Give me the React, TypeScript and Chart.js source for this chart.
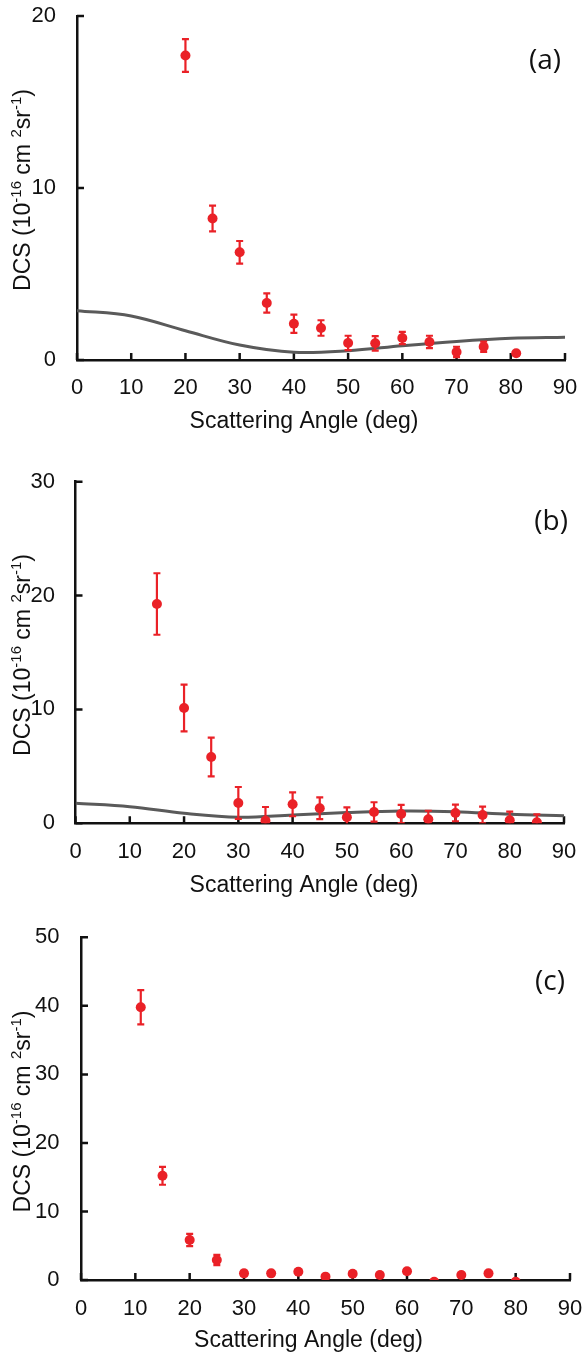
import React, { useEffect, useRef } from 'react';
import { Chart, registerables } from 'chart.js';

Chart.register(...registerables);

// ---------- data ----------
const xTickValues = [0, 10, 20, 30, 40, 50, 60, 70, 80, 90];

// panel (a)
const anglesA = [20, 25, 30, 35, 40, 45, 50, 55, 60, 65, 70, 75, 81];
const dcsA = [17.7, 8.23, 6.26, 3.31, 2.11, 1.86, 0.99, 0.97, 1.28, 1.05, 0.47, 0.77, 0.39];
const errA = [0.95, 0.75, 0.66, 0.56, 0.53, 0.45, 0.42, 0.42, 0.36, 0.36, 0.3, 0.3, 0.12];
const theoryAnglesA = [0, 10, 20, 30, 40, 50, 60, 70, 80, 90];
const theoryA = [2.87, 2.56, 1.7, 0.87, 0.45, 0.54, 0.83, 1.08, 1.26, 1.32];

// panel (b)
const anglesB = [15, 20, 25, 30, 35, 40, 45, 50, 55, 60, 65, 70, 75, 80, 85];
const dcsB = [19.26, 10.13, 5.82, 1.79, 0.23, 1.67, 1.32, 0.53, 1.0, 0.82, 0.35, 0.91, 0.73, 0.26, 0.09];
const errB = [2.7, 2.05, 1.7, 1.4, 1.2, 1.05, 0.95, 0.87, 0.85, 0.8, 0.75, 0.73, 0.73, 0.76, 0.7];
const theoryAnglesB = [0, 10, 20, 30, 40, 50, 60, 70, 80, 90];
const theoryB = [1.76, 1.46, 0.88, 0.53, 0.73, 0.94, 1.08, 1.02, 0.79, 0.67];

// panel (c)
const anglesC = [11, 15, 20, 25, 30, 35, 40, 45, 50, 55, 60, 65, 70, 75, 80];
const dcsC = [39.8, 15.2, 5.84, 2.92, 0.97, 0.97, 1.21, 0.49, 0.92, 0.73, 1.27, -0.25, 0.73, 0.97, -0.25];
const errC = [2.5, 1.3, 0.9, 0.75, 0.35, 0.3, 0.3, 0.3, 0.3, 0.3, 0.3, 0.3, 0.3, 0.3, 0.3];

const yTitleSegments: [string, boolean][] = [
  ['DCS (10', false],
  ['-16', true],
  [' cm ', false],
  ['2', true],
  ['sr', false],
  ['-1', true],
  [')', false],
];
const xTitle = 'Scattering Angle (deg)';

// ---------- styles / layout ----------
const RED = '#EA2127';
const GRAY = '#5A5A5A';
const BLACK = '#111111';
const FONT = "'Liberation Sans', Arial, sans-serif";
const TICK_SIZE = 22;
const TITLE_SIZE = 23;
const LABEL_SIZE = 28;

type PanelLayout = {
  top: number;
  height: number;
  left: number;
  right: number;
  areaTop: number;
  areaBottom: number;
  tickLabelCenter: number;
  titleCenterX: number;
  titleCenterY: number;
  yLabelRight: number;
  labelRight: number;
  labelCenter: number;
  yTitleCenter: number;
};

type PanelDef = {
  label: string;
  yMax: number;
  angles: number[];
  values: number[];
  errors: number[];
  theoryAngles?: number[];
  theory?: number[];
  layout: PanelLayout;
};

const panels: PanelDef[] = [
  {
    label: '(a)', yMax: 20, angles: anglesA, values: dcsA, errors: errA,
    theoryAngles: theoryAnglesA, theory: theoryA,
    layout: { top: 0, height: 440, left: 77, right: 565, areaTop: 16, areaBottom: 360,
      tickLabelCenter: 388, titleCenterX: 304, titleCenterY: 419.5, yLabelRight: 56,
      labelRight: 561, labelCenter: 61.5, yTitleCenter: 190 },
  },
  {
    label: '(b)', yMax: 30, angles: anglesB, values: dcsB, errors: errB,
    theoryAngles: theoryAnglesB, theory: theoryB,
    layout: { top: 460, height: 443, left: 75.5, right: 564, areaTop: 481.7, areaBottom: 823.3,
      tickLabelCenter: 851.5, titleCenterX: 304, titleCenterY: 883.5, yLabelRight: 55,
      labelRight: 568, labelCenter: 522.5, yTitleCenter: 655 },
  },
  {
    label: '(c)', yMax: 50, angles: anglesC, values: dcsC, errors: errC,
    layout: { top: 920, height: 433, left: 81, right: 570, areaTop: 937.3, areaBottom: 1280,
      tickLabelCenter: 1308.5, titleCenterX: 308.5, titleCenterY: 1339, yLabelRight: 59.5,
      labelRight: 565, labelCenter: 982.5, yTitleCenter: 1111.5 },
  },
];

// ---------- plugins ----------
const errorBarPlugin = {
  id: 'errorBars',
  beforeDatasetDraw(chart: any, args: any) {
    if (args.index !== 0) return;
    const ds = chart.data.datasets[0];
    const errs: number[] = ds.errors || [];
    const xs = chart.scales.x;
    const ys = chart.scales.y;
    const area = chart.chartArea;
    const ctx = chart.ctx;
    ctx.save();
    ctx.beginPath();
    ctx.rect(area.left, area.top, area.right - area.left, area.bottom - area.top);
    ctx.clip();
    ctx.strokeStyle = RED;
    ctx.lineWidth = 2.2;
    ds.data.forEach((pt: any, i: number) => {
      const e = errs[i];
      if (!e) return;
      const px = xs.getPixelForValue(pt.x);
      const top = ys.getPixelForValue(pt.y + e);
      const bot = ys.getPixelForValue(pt.y - e);
      ctx.beginPath();
      ctx.moveTo(px, top);
      ctx.lineTo(px, bot);
      ctx.moveTo(px - 3.5, top);
      ctx.lineTo(px + 3.5, top);
      ctx.moveTo(px - 3.5, bot);
      ctx.lineTo(px + 3.5, bot);
      ctx.stroke();
    });
    ctx.restore();
  },
};

const inwardTicksPlugin = {
  id: 'inwardTicks',
  beforeDatasetsDraw(chart: any) {
    const ctx = chart.ctx;
    const xs = chart.scales.x;
    const ys = chart.scales.y;
    const area = chart.chartArea;
    ctx.save();
    ctx.strokeStyle = BLACK;
    ctx.lineWidth = 2.5;
    ctx.beginPath();
    xs.ticks.forEach((t: any) => {
      const px = xs.getPixelForValue(t.value);
      ctx.moveTo(px, area.bottom);
      ctx.lineTo(px, area.bottom - 7);
    });
    ys.ticks.forEach((t: any) => {
      const py = ys.getPixelForValue(t.value);
      ctx.moveTo(area.left, py);
      ctx.lineTo(area.left + 7, py);
    });
    ctx.stroke();
    ctx.restore();
  },
};

const decorPlugin = {
  id: 'decor',
  afterDraw(chart: any, _args: any, opts: any) {
    const ctx = chart.ctx;
    // y-axis title with superscripts
    const size = TITLE_SIZE;
    const supSize = Math.round(size * 0.64);
    const base = `${size}px ${FONT}`;
    const sup = `${supSize}px ${FONT}`;
    ctx.save();
    let total = 0;
    yTitleSegments.forEach(([t, s]) => {
      ctx.font = s ? sup : base;
      total += ctx.measureText(t).width;
    });
    ctx.translate(22, opts.yTitleY);
    ctx.rotate(-Math.PI / 2);
    ctx.fillStyle = BLACK;
    ctx.textBaseline = 'alphabetic';
    ctx.textAlign = 'left';
    const baseline = size * 0.358;
    let x = -total / 2;
    yTitleSegments.forEach(([t, s]) => {
      ctx.font = s ? sup : base;
      ctx.fillText(t, x, s ? baseline - size * 0.4 : baseline);
      x += ctx.measureText(t).width;
    });
    ctx.restore();

    // x-axis title
    ctx.save();
    ctx.font = base;
    ctx.fillStyle = BLACK;
    ctx.textAlign = 'center';
    ctx.textBaseline = 'alphabetic';
    ctx.fillText(xTitle, opts.xTitleX, opts.xTitleY + size * 0.358);
    ctx.restore();

    // panel label
    ctx.save();
    ctx.font = `${LABEL_SIZE}px 'Open Sans', sans-serif`;
    ctx.fillStyle = BLACK;
    ctx.textAlign = 'right';
    ctx.textBaseline = 'alphabetic';
    ctx.fillText(opts.label, opts.labelX, opts.labelY + LABEL_SIZE * 0.27);
    ctx.restore();
  },
};

// ---------- component ----------
function PanelChart({ p }: { p: PanelDef }) {
  const ref = useRef<HTMLCanvasElement | null>(null);
  useEffect(() => {
    const L = p.layout;
    const tickLH = TICK_SIZE * 1.2;
    const xScaleHeight = L.top + L.height - L.areaBottom;
    const datasets: any[] = [
      {
        label: 'exp',
        data: p.angles.map((a, i) => ({ x: a, y: p.values[i] })),
        errors: p.errors,
        backgroundColor: RED,
        borderColor: RED,
        pointRadius: 5,
        pointBorderWidth: 0,
        showLine: false,
        clip: 0,
      },
    ];
    if (p.theory && p.theoryAngles) {
      datasets.push({
        label: 'theory',
        data: p.theoryAngles.map((a, i) => ({ x: a, y: p.theory![i] })),
        borderColor: GRAY,
        borderWidth: 3,
        pointRadius: 0,
        showLine: true,
        tension: 0.35,
        fill: false,
      });
    }
    const chart = new Chart(ref.current!, {
      type: 'scatter',
      data: { datasets },
      options: {
        animation: false,
        responsive: false,
        devicePixelRatio: 1,
        layout: {
          padding: { top: L.areaTop - L.top, right: 583 - L.right, left: 0, bottom: 0 },
        },
        plugins: {
          legend: { display: false },
          tooltip: { enabled: false },
          decor: {
            label: p.label,
            labelX: L.labelRight,
            labelY: L.labelCenter - L.top,
            yTitleY: L.yTitleCenter - L.top,
            xTitleX: L.titleCenterX,
            xTitleY: L.titleCenterY - L.top,
          },
        } as any,
        scales: {
          x: {
            type: 'linear',
            min: 0,
            max: 90,
            afterBuildTicks: (scale: any) => {
              scale.ticks = xTickValues.map((v) => ({ value: v }));
            },
            afterFit: (scale: any) => {
              scale.height = xScaleHeight;
              scale.paddingLeft = 0;
              scale.paddingRight = 0;
            },
            grid: { display: false, drawTicks: false },
            border: { display: true, color: BLACK, width: 2.5 },
            ticks: {
              color: BLACK,
              font: { family: FONT, size: TICK_SIZE },
              padding: L.tickLabelCenter - L.areaBottom - tickLH / 2,
              maxRotation: 0,
              autoSkip: false,
            },
            title: { display: false },
          },
          y: {
            type: 'linear',
            min: 0,
            max: p.yMax,
            afterFit: (scale: any) => {
              scale.width = L.left;
              scale.paddingTop = 0;
              scale.paddingBottom = 0;
            },
            grid: { display: false, drawTicks: false },
            border: { display: true, color: BLACK, width: 2.5 },
            ticks: {
              stepSize: 10,
              color: BLACK,
              font: { family: FONT, size: TICK_SIZE },
              padding: L.left - L.yLabelRight,
            },
          },
        },
      },
      plugins: [errorBarPlugin, inwardTicksPlugin, decorPlugin],
    } as any);
    return () => chart.destroy();
  }, [p]);
  const L = p.layout;
  return (
    <div style={{ position: 'absolute', left: 0, top: L.top, width: 583, height: L.height }}>
      <canvas ref={ref} width={583} height={L.height} style={{ display: 'block', width: 583, height: L.height }} />
    </div>
  );
}

export default function App() {
  return (
    <div style={{ position: 'absolute', left: 0, top: 0, width: 583, height: 1353, background: '#fff' }}>
      {panels.map((p) => (
        <PanelChart key={p.label} p={p} />
      ))}
    </div>
  );
}
